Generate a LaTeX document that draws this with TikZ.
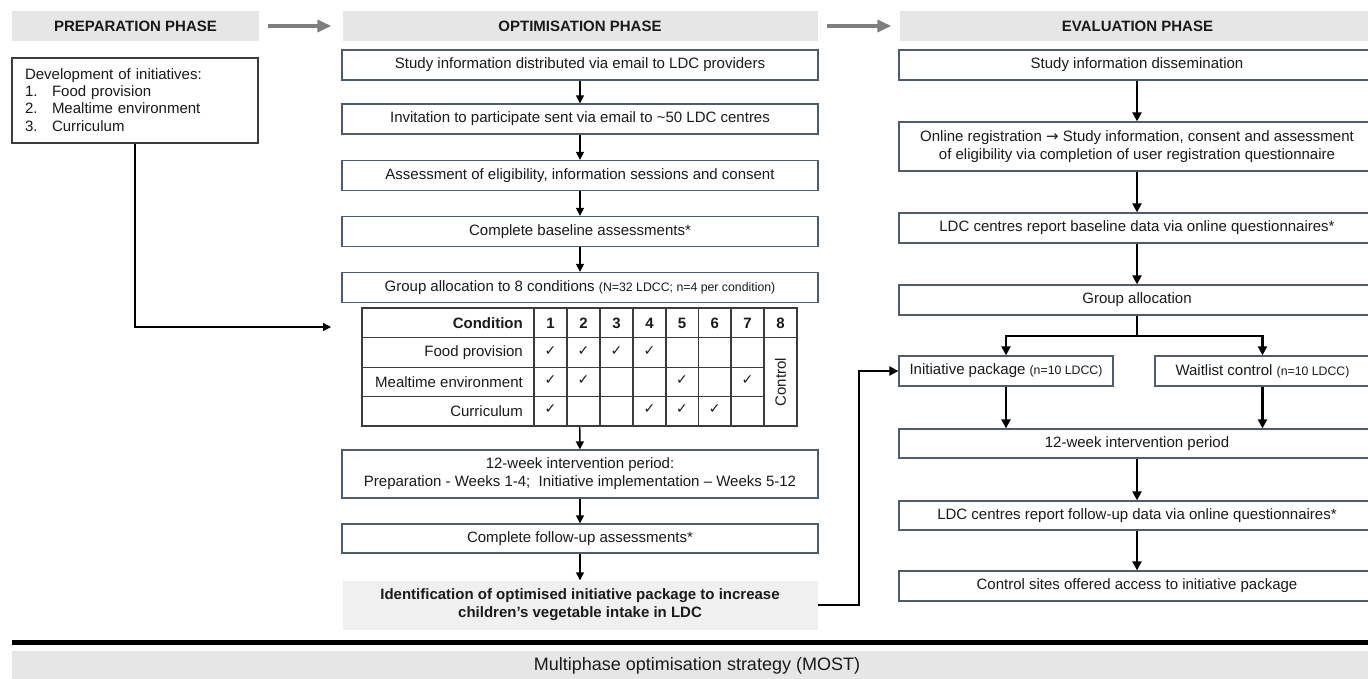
\documentclass[tikz,border=0pt]{standalone}
\usepackage{fontspec}
\setmainfont{Liberation Sans}
\newfontfamily\symfont{DejaVu Sans}
\usetikzlibrary{arrows.meta}
\definecolor{hdrgray}{HTML}{E6E6E6}
\definecolor{idgray}{HTML}{F0F0F0}
\definecolor{boxline}{HTML}{505C6E}
\definecolor{arrgray}{HTML}{7F7F7F}
\definecolor{tblline}{HTML}{3C3C3C}
\definecolor{txt}{HTML}{1A1A1A}
\begin{document}
\begin{tikzpicture}[x=1pt,y=-1pt,
  every node/.style={font=\fontsize{15}{18}\selectfont, inner sep=0pt, text=txt},
  hdr/.style={fill=hdrgray, minimum height=30pt, font=\fontsize{15}{18}\selectfont\bfseries},
  stepbox/.style={draw=boxline, line width=1.3pt, fill=white, minimum width=476pt, minimum height=30pt, align=center},
  optarrow/.style={line width=1.4pt, -{Triangle[length=8pt,width=8pt]}},
  evarrow/.style={line width=2.2pt, -{Triangle[length=9pt,width=9pt]}},
  grayarrow/.style={draw=arrgray, line width=3.5pt, -{Triangle[length=14pt,width=12pt]}},
  tbl/.style={draw=tblline, line width=1.1pt},
  boldtxt/.style={font=\fontsize{15}{18}\selectfont\bfseries}
]
\newcommand\smalltxt[1]{{\fontsize{12.3}{14}\selectfont #1}}
\useasboundingbox (0,0) rectangle (1368,678);

% ---------------- headers
\node[hdr, minimum width=247pt] (hprep) at (135.5,26) {PREPARATION PHASE};
\node[hdr, minimum width=475pt] (hopt) at (580,26) {OPTIMISATION PHASE};
\node[hdr, minimum width=476pt] (heval) at (1137.5,26) {EVALUATION PHASE};
\draw[grayarrow, shorten <=9pt, shorten >=11pt] (hprep) -- (hopt);
\draw[grayarrow, shorten <=9pt, shorten >=8pt] (hopt) -- (heval);

% ---------------- preparation
\node[draw=tblline, line width=1.2pt, fill=white, minimum width=246pt, minimum height=85pt,
      text width=220pt, align=left] (p1) at (135,100.5)
 {\fontsize{15}{17}\selectfont Development of initiatives:\\
  \makebox[27pt][l]{1.}Food provision\\
  \makebox[27pt][l]{2.}Mealtime environment\\
  \makebox[27pt][l]{3.}Curriculum};
\coordinate (tblin) at (331,327);
\draw[optarrow] (p1.south) |- (tblin);

% ---------------- optimisation
\node[stepbox] (o1) at (580,65) {Study information distributed via email to LDC providers};
\node[stepbox] (o2) at (580,119) {Invitation to participate sent via email to \textasciitilde50 LDC centres};
\node[stepbox] (o3) at (580,175.5) {Assessment of eligibility, information sessions and consent};
\node[stepbox] (o4) at (580,231.5) {Complete baseline assessments*};
\node[stepbox] (o5) at (580,287.5) {Group allocation to 8 conditions \smalltxt{(N=32 LDCC; n=4 per condition)}};
\node[minimum width=435pt, minimum height=118pt] (tbl) at (579.5,367) {};
\node[stepbox, minimum height=48pt] (o6) at (580,474) {12-week intervention period:\\Preparation - Weeks 1-4;\ \ Initiative implementation – Weeks 5-12};
\node[stepbox, minimum height=29pt] (o7) at (580,538.5) {Complete follow-up assessments*};
\node[fill=idgray, minimum width=475pt, minimum height=49pt, align=center, boldtxt] (o8) at (580,605)
 {Identification of optimised initiative package to increase\\children’s vegetable intake in LDC};

\draw[optarrow] (o1) -- (o2);
\draw[optarrow] (o2) -- (o3);
\draw[optarrow] (o3) -- (o4);
\draw[optarrow] (o4) -- (o5);
\draw[optarrow] (tbl) -- (o6);
\draw[optarrow] (o6) -- (o7);
\draw[optarrow] (o7) -- (o8);

% ---------------- table
\draw[tbl] (362,308) rectangle (797,426);
\foreach \x in {534,567,600,633,666,698.5,731,764} \draw[tbl] (\x,308) -- (\x,426);
\draw[tbl] (362,337.7) -- (797,337.7);
\foreach \y in {367.3,396.7} \draw[tbl] (362,\y) -- (764,\y);
\node[anchor=east, boldtxt] (tcond) at (523,323) {Condition};
\node[anchor=east] (tfood) at (523,352.5) {Food provision};
\node[anchor=east] (tmeal) at (523,382) {Mealtime environment};
\node[anchor=east] (tcurr) at (523,411) {Curriculum};
\foreach \i/\x in {1/550.5,2/583.5,3/616.5,4/649.5,5/682,6/714.8,7/747.5,8/780.5}
  \node[boldtxt] (th\i) at (\x,323) {\i};
\foreach \n/\x/\y in {a/550.5/351,b/583.5/351,c/616.5/351,d/649.5/351,
                      e/550.5/380.5,f/583.5/380.5,g/682/380.5,h/747.5/380.5,
                      i/550.5/409.5,j/649.5/409.5,k/682/409.5,l/714.8/409.5}
  \node[font=\symfont\fontsize{14}{16}\selectfont] (ck\n) at (\x,\y) {✓};
\node[rotate=90] (tctrl) at (780.5,382) {Control};

% ---------------- evaluation
\node[stepbox] (e1) at (1137,65) {Study information dissemination};
\node[stepbox, minimum height=49pt] (e2) at (1137,146.5) {Online registration {\symfont\fontsize{15}{18}\selectfont →} Study information, consent and assessment\\of eligibility via completion of user registration questionnaire};
\node[stepbox] (e3) at (1137,228) {LDC centres report baseline data via online questionnaires*};
\node[stepbox] (e4) at (1137,300) {Group allocation};
\node[stepbox, minimum width=214pt] (e5) at (1006,371) {Initiative package \smalltxt{(n=10 LDCC)}};
\node[stepbox, minimum width=215pt] (e6) at (1262.5,371) {Waitlist control \smalltxt{(n=10 LDCC)}};
\node[stepbox, minimum height=29pt] (e7) at (1137,443.5) {12-week intervention period};
\node[stepbox, minimum height=29pt] (e8) at (1137,515.5) {LDC centres report follow-up data via online questionnaires*};
\node[stepbox] (e9) at (1137,586) {Control sites offered access to initiative package};

\draw[evarrow] (e1) -- (e2);
\draw[evarrow] (e2) -- (e3);
\draw[evarrow] (e3) -- (e4);
\coordinate (split) at (1137,336);
\draw[evarrow] (e4.south) -- (split) -| (e5.north);
\draw[evarrow] (split) -| (e6.north);
\draw[evarrow] (e5.south) -- (e5.south |- e7.north);
\draw[evarrow] (e6.south) -- (e6.south |- e7.north);
\draw[evarrow] (e7) -- (e8);
\draw[evarrow] (e8) -- (e9);
\draw[evarrow] (o8.east) -- ++(41,0) |- (e5.west);

% ---------------- bottom band
\draw[line width=5pt] (12,642.5) -- (1380,642.5);
\node[fill=hdrgray, minimum width=1370pt, minimum height=33pt, anchor=north west] (most) at (12,651) {};
\node[font=\fontsize{18}{20}\selectfont] (mosttxt) at (697,666) {Multiphase optimisation strategy (MOST)};
\end{tikzpicture}
\end{document}
